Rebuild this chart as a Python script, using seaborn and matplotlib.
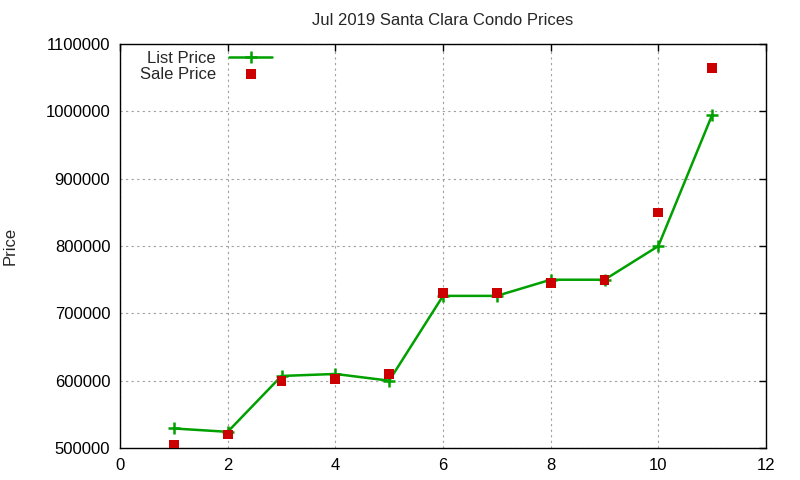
import matplotlib
matplotlib.use("Agg")
import matplotlib.pyplot as plt
import seaborn as sns
import pandas as pd

# Datos
indices = [1, 2, 3, 4, 5, 6, 7, 8, 9, 10, 11]
list_price = [529000, 524000, 607000, 610000, 600000, 726000, 726000, 750000, 750000, 800000, 995000]
sale_price = [505000, 520000, 599000, 603000, 610000, 730000, 730000, 745000, 750000, 850000, 1065000]

x_ticks = [0, 2, 4, 6, 8, 10, 12]
y_ticks = [500000, 600000, 700000, 800000, 900000, 1000000, 1100000]

df = pd.DataFrame({"idx": indices, "list": list_price, "sale": sale_price})

sns.set_style("white")
plt.rcParams['font.family'] = ['Liberation Sans', 'DejaVu Sans']
plt.rcParams['font.size'] = 12

fig = plt.figure(figsize=(8, 4.8), dpi=100)
ax = fig.add_axes([0.15, 0.0667, 0.8075, 0.8413])

sns.lineplot(data=df, x="idx", y="list", ax=ax, color="#00a000", linewidth=1.8,
             marker="+", markersize=9, markeredgewidth=1.8, markeredgecolor="#00a000",
             label="List Price")
sns.scatterplot(data=df, x="idx", y="sale", ax=ax, color="#cc0000", marker="s",
                s=50, edgecolor="none", label="Sale Price", zorder=3)

ax.set_xlim(0, 12)
ax.set_ylim(500000, 1100000)
ax.set_xticks(x_ticks)
ax.set_yticks(y_ticks)
ax.set_yticklabels([str(v) for v in y_ticks])
ax.set_xlabel("")
ax.set_ylabel("Price", fontsize=12, labelpad=20)

ax.grid(True, color="#a0a0a0", linestyle=(0, (2, 3)), linewidth=0.8)
ax.tick_params(direction="in", top=True, right=True, length=5, width=1, colors="black", labelsize=12, pad=7)
for s in ax.spines.values():
    s.set_color("black")
    s.set_linewidth(1)

ax.set_title("Jul 2019 Santa Clara Condo Prices", fontsize=12, pad=14)

leg = ax.legend(loc="upper left", frameon=False, markerfirst=False, handlelength=2.6,
                borderaxespad=0.0, labelspacing=0.05, fontsize=12, bbox_to_anchor=(0.02, 1.0))

plt.savefig("out.png", dpi=100)
